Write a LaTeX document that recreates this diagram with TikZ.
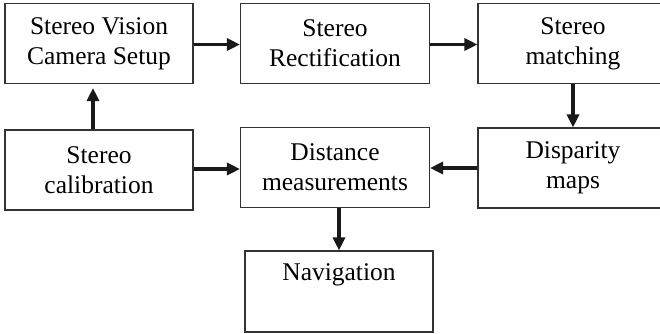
\documentclass[tikz,border=0pt]{standalone}
\usepackage{fontspec}
\setmainfont{Liberation Serif}
\usetikzlibrary{arrows.meta}
\begin{document}
\begin{tikzpicture}[x=1pt,y=-1pt,
  box/.style={draw=black!80, line width=1.1pt, inner sep=0pt, align=center,
    font=\fontsize{25.5}{30}\selectfont, minimum height=80pt},
  arr/.style={line width=3.2pt, draw=black!90, -{Triangle[length=13pt,width=12pt]}}]
\useasboundingbox (0,0) rectangle (660,333);
\clip (0,0) rectangle (660,333);
\node[box, minimum width=188pt] (cam) at (99,43.5) {Stereo Vision\\Camera Setup};
\node[box, minimum width=189pt] (rect) at (335,43.5) {Stereo\\Rectification};
\node[box, minimum width=190pt] (match) at (573,43.5) {Stereo\\matching};
\node[box, minimum width=188pt] (calib) at (99,170) {Stereo\\calibration};
\node[box, minimum width=189pt] (dist) at (335,167.5) {Distance\\measurements};
\node[box, minimum width=190pt] (disp) at (573,168) {Disparity\\maps};
\node[box, minimum width=188pt, minimum height=81pt] (nav) at (339,291.5) {Navigation\\\strut};
\draw[arr] ([yshift=-1pt]cam.east) -- ([yshift=-1pt]cam.east -| rect.west);
\draw[arr] ([yshift=-1pt]rect.east) -- ([yshift=-1pt]rect.east -| match.west);
\draw[arr] (match) -- (disp);
\draw[arr, shorten >=4pt] ([xshift=-6pt]calib.north) -- ([xshift=-6pt]cam.south);
\draw[arr] ([yshift=1pt]calib.east) -- ([yshift=1pt]calib.east -| dist.west);
\draw[arr] (disp.west) -- (disp.west -| dist.east);
\draw[arr] (dist.south -| nav.north) -- (nav.north);
\end{tikzpicture}
\end{document}
